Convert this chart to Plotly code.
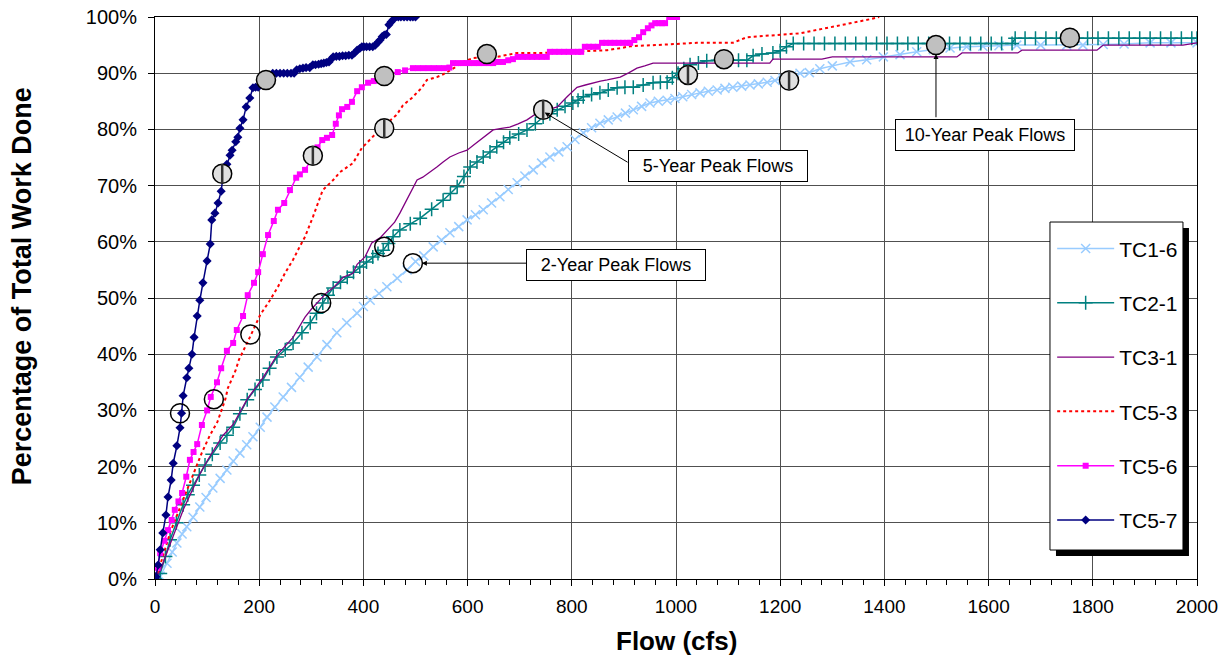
import plotly.graph_objects as go

# ---------------- data ----------------
tc16_x = [0, 10, 23, 33, 42, 52, 61, 73, 86, 98, 111, 125, 138, 150, 163, 176, 188, 202, 215, 230,
          246, 262, 278, 294, 311, 330, 349, 368, 388, 400, 413, 430, 445, 465, 484, 500, 516, 534, 550, 566,
          583, 599, 615, 630, 646, 662, 678, 695, 710, 726, 742, 758, 775, 791, 806, 822, 838, 854, 870, 887,
          903, 918, 934, 950, 966, 983, 998, 1013, 1030, 1046, 1062, 1079, 1094, 1109, 1126, 1142, 1158, 1175, 1190, 1205,
          1222, 1238, 1256, 1276, 1300, 1334, 1366, 1398, 1430, 1462, 1494, 1526, 1558, 1589, 1620, 1654, 1700, 1750, 1781, 1820,
          1860, 1910, 1950, 2000]
tc16_y = [0, 0.5, 2.8, 4.8, 6.4, 8.0, 9.3, 11.0, 12.8, 14.5, 16.2, 17.9, 19.4, 21.0, 22.4, 23.9, 25.3, 27.0, 28.8, 30.6,
          32.4, 34.1, 35.9, 37.7, 39.5, 41.7, 43.8, 45.6, 47.3, 48.5, 49.6, 50.8, 52.0, 53.5, 55.0, 56.5, 57.5, 59.1, 60.3, 61.6,
          62.7, 63.9, 64.8, 65.7, 66.9, 68.0, 69.3, 70.5, 71.7, 72.8, 74.0, 75.1, 76.0, 76.9, 78.2, 79.4, 80.3, 81.1, 81.7, 82.2,
          82.9, 83.5, 84.1, 84.7, 85.0, 85.2, 85.5, 85.8, 86.2, 86.5, 86.8, 87.0, 87.3, 87.5, 87.7, 87.9, 88.1, 88.4, 88.7, 89.1,
          89.6, 90.0, 90.1, 90.8, 91.3, 92.0, 92.4, 92.9, 93.3, 93.8, 94.2, 94.5, 94.7, 94.8, 94.9, 95.0, 95.0, 95.0, 95.0, 95.1,
          95.2, 95.4, 95.4, 95.4]

tc21_x = [0, 10, 20, 29, 41, 54, 63, 73, 85, 96, 110, 125, 138, 150, 163, 177, 192, 207, 220, 234,
          250, 265, 282, 298, 310, 322, 332, 342, 356, 369, 381, 393, 406, 418, 428, 438, 448, 457, 470, 490,
          509, 531, 553, 567, 580, 593, 605, 618, 630, 643, 656, 669, 681, 698, 714, 730, 745, 758, 772, 787,
          802, 812, 822, 838, 854, 870, 887, 902, 918, 937, 956, 970, 983, 993, 1004, 1015, 1027, 1043, 1059, 1080,
          1100, 1120, 1136, 1148, 1165, 1186, 1200, 1212, 1225, 1245, 1265, 1285, 1305, 1325, 1345, 1365, 1385, 1405, 1425, 1445,
          1465, 1485, 1505, 1525, 1545, 1565, 1585, 1605, 1625, 1645, 1651, 1670, 1690, 1710, 1730, 1750, 1770, 1790, 1810, 1830,
          1850, 1870, 1890, 1910, 1930, 1950, 1970, 1990, 2000]
tc21_y = [0, 1.0, 4.0, 7.0, 10.0, 13.2, 15.0, 16.7, 18.5, 20.3, 22.2, 24.2, 25.6, 27.0, 29.4, 31.9, 33.7, 35.4, 37.5, 39.5,
          40.8, 42.0, 43.8, 45.6, 47.3, 49.1, 50.5, 51.8, 52.8, 53.7, 54.6, 55.5, 56.4, 57.3, 57.9, 58.5, 59.7, 60.9, 62.1, 63.2,
          64.2, 65.8, 67.4, 68.6, 69.8, 71.6, 73.3, 74.2, 75.1, 76.0, 76.9, 77.7, 78.5, 79.2, 79.9, 81.0, 82.2, 82.8, 83.5, 84.1,
          84.7, 85.2, 85.8, 86.2, 86.5, 87.0, 87.4, 87.5, 87.5, 87.9, 88.3, 88.4, 88.4, 89.2, 90.0, 90.8, 91.5, 91.8, 92.2, 92.3,
          92.3, 92.3, 92.3, 93.1, 93.4, 93.6, 94.0, 94.7, 95.3, 95.3, 95.3, 95.3, 95.3, 95.3, 95.3, 95.3, 95.3, 95.3, 95.3, 95.3,
          95.3, 95.3, 95.3, 95.3, 95.3, 95.3, 95.3, 95.3, 95.3, 95.3, 96.2, 96.2, 96.2, 96.2, 96.2, 96.2, 96.2, 96.2, 96.2, 96.2,
          96.2, 96.2, 96.2, 96.2, 96.2, 96.2, 96.2, 96.2, 96.2]

tc31_x = [0, 10, 20, 30, 40, 55, 70, 85, 100, 115, 130, 150, 177, 207, 234, 265, 288, 300, 315, 330,
          342, 361, 380, 388, 403, 416, 432, 447, 460, 470, 483, 495, 503, 514, 530, 541, 553, 566, 583, 599,
          611, 624, 636, 649, 665, 681, 697, 714, 733, 752, 772, 791, 810, 826, 841, 855, 868, 880, 893, 910,
          925, 940, 956, 1180, 1186, 1280, 1300, 1539, 1549, 1656, 1664, 1808, 1820, 1973, 2000]
tc31_y = [0, 1.5, 4.0, 6.5, 9.0, 12.5, 15.5, 18.5, 21.0, 23.3, 25.5, 27.5, 32.0, 35.8, 39.8, 43.0, 46.6, 48.0, 49.5, 51.0,
          51.8, 53.7, 54.4, 56.0, 57.3, 59.8, 60.7, 62.1, 63.5, 65.1, 67.5, 69.8, 71.0, 71.5, 72.5, 73.3, 74.2, 75.1, 75.8, 76.3,
          77.2, 78.1, 79.0, 79.9, 80.2, 80.4, 81.0, 81.7, 82.9, 83.5, 84.0, 85.8, 87.5, 87.9, 88.3, 88.6, 88.8, 89.0, 89.3, 90.1,
          90.9, 91.3, 91.8, 91.8, 92.5, 92.5, 92.9, 92.9, 93.6, 93.6, 94.1, 94.1, 95.0, 95.0, 95.4]

tc53_x = [0, 10, 20, 30, 45, 60, 75, 90, 105, 120, 135, 140, 155, 161, 182, 202, 220, 236, 250, 265,
          277, 288, 303, 313, 322, 342, 355, 380, 397, 416, 436, 450, 464, 476, 493, 512, 522, 541, 553, 575,
          590, 611, 656, 695, 739, 800, 868, 896, 912, 960, 1040, 1109, 1136, 1238, 1290, 1330, 1372, 1390]
tc53_y = [0, 2.5, 5.5, 8.5, 12.0, 15.5, 19.0, 22.5, 25.5, 28.0, 32.0, 34.0, 37.2, 39.0, 43.0, 47.0, 49.5, 52.0, 54.5, 56.8,
          59.0, 60.9, 64.4, 67.0, 69.2, 71.0, 72.4, 74.0, 76.7, 78.5, 80.4, 81.5, 82.6, 84.3, 85.6, 87.4, 88.8, 89.3, 89.8, 91.0,
          92.0, 92.7, 92.9, 93.6, 93.6, 93.8, 94.1, 94.5, 94.8, 95.0, 95.4, 95.4, 96.4, 97.1, 98.0, 98.8, 99.6, 100.0]

tc56_x = [0, 5, 10, 18, 25, 32, 38, 45, 52, 60, 67, 74, 81, 90, 100, 107, 119, 127, 138, 150,
          157, 169, 178, 190, 198, 207, 217, 228, 236, 248, 259, 271, 278, 288, 303, 312, 321, 330, 340, 347,
          353, 359, 369, 378, 388, 397, 409, 420, 436, 451, 466, 480, 495, 505, 515, 525, 535, 545, 555, 565,
          572, 582, 592, 602, 612, 622, 632, 642, 649, 658, 668, 678, 687, 696, 706, 715, 724, 733, 742, 752,
          758, 767, 776, 785, 794, 803, 812, 818, 825, 833, 841, 850, 858, 866, 874, 882, 890, 898, 906, 912,
          920, 929, 937, 946, 953, 960, 967, 973, 979, 987, 995, 1002]
tc56_y = [0, 2.0, 4.6, 6.8, 8.7, 10.5, 12.3, 13.8, 15.3, 18.2, 21.2, 22.6, 24.0, 27.4, 30.0, 32.4, 35.0, 37.5, 40.6, 42.0,
          44.3, 46.8, 50.5, 52.7, 54.6, 57.8, 61.2, 63.7, 65.7, 66.9, 69.2, 71.4, 72.0, 72.8, 75.1, 76.8, 78.1, 78.5, 79.0, 81.0,
          82.5, 83.6, 84.0, 84.9, 86.8, 87.5, 88.3, 88.6, 89.1, 89.9, 90.2, 90.5, 90.9, 90.9, 90.9, 90.9, 90.9, 90.9, 90.9, 91.0,
          91.8, 91.8, 91.8, 91.8, 91.8, 91.8, 91.8, 91.8, 91.8, 92.0, 92.0, 92.3, 92.5, 92.9, 92.9, 92.9, 92.9, 92.9, 92.9, 92.9,
          93.8, 93.8, 93.8, 93.8, 93.8, 93.8, 93.8, 93.8, 94.7, 94.7, 94.7, 94.7, 95.4, 95.4, 95.4, 95.4, 95.4, 95.4, 95.4, 95.4,
          95.9, 96.4, 97.3, 98.0, 98.5, 98.9, 98.9, 98.9, 98.9, 100.0, 100.0, 100.0]

tc57_x = [0, 2, 6, 10, 15, 21, 25, 31, 35, 42, 48, 51, 54, 61, 65, 71, 75, 81, 86, 92,
          100, 106, 109, 115, 121, 127, 131, 138, 144, 148, 155, 159, 163, 169, 175, 182, 188, 193, 198, 205,
          211, 218, 226, 233, 240, 247, 254, 261, 267, 272, 278, 284, 290, 297, 303, 308, 314, 319, 324, 329,
          334, 338, 342, 348, 354, 360, 366, 372, 378, 383, 388, 393, 397, 401, 406, 412, 418, 423, 428, 432,
          436, 440, 444, 449, 453, 457, 462, 467, 472, 478, 484, 490, 495, 500]
tc57_y = [0, 0.4, 2.5, 5.2, 8.2, 11.4, 14.6, 17.6, 20.6, 23.7, 26.9, 29.5, 32.6, 35.8, 37.5, 40.0, 43.0, 46.8, 49.6, 52.7,
          56.6, 59.6, 63.9, 65.1, 66.9, 69.0, 72.0, 73.8, 75.4, 76.3, 77.8, 78.6, 80.2, 81.7, 84.0, 85.6, 87.4, 87.5, 87.5, 88.3,
          88.8, 89.4, 90.0, 90.0, 90.0, 90.0, 90.0, 90.0, 90.0, 90.6, 90.8, 90.9, 91.0, 91.0, 91.5, 91.5, 91.6, 91.7, 91.8, 91.9,
          92.0, 92.5, 92.9, 93.0, 93.0, 93.1, 93.1, 93.2, 93.2, 93.6, 94.1, 94.4, 94.7, 94.7, 94.7, 94.7, 94.7, 95.0, 95.5, 95.9,
          96.5, 96.8, 96.9, 98.6, 99.1, 99.5, 100.0, 100.0, 100.0, 100.0, 100.0, 100.0, 100.0, 100.0]

# peak-flow markers
p2_x = [48, 113, 183, 319, 440, 495]
p2_y = [29.5, 32.0, 43.5, 49.1, 59.1, 56.2]
p5_x = [129, 303, 440, 745, 1023, 1217]
p5_y = [72.1, 75.3, 80.2, 83.5, 89.7, 88.7]
p10_x = [213, 440, 637, 1092, 1499, 1756]
p10_y = [88.8, 89.5, 93.4, 92.5, 95.0, 96.3]

FONT = "Arial, 'Liberation Sans', sans-serif"

fig = go.Figure()

series = [
    ("TC1-6", tc16_x, tc16_y, dict(color="#99CCFF", width=1.5), dict(symbol="x-thin", size=9, line=dict(color="#99CCFF", width=1.5))),
    ("TC2-1", tc21_x, tc21_y, dict(color="#008080", width=1.5), dict(symbol="cross-thin", size=10, line=dict(color="#008080", width=1.5))),
    ("TC3-1", tc31_x, tc31_y, dict(color="#800080", width=1.3), None),
    ("TC5-3", tc53_x, tc53_y, dict(color="#FF0000", width=2, dash="dot"), None),
    ("TC5-6", tc56_x, tc56_y, dict(color="#FF00FF", width=1.5), dict(symbol="square", size=6, color="#FF00FF")),
    ("TC5-7", tc57_x, tc57_y, dict(color="#000080", width=1.5), dict(symbol="diamond", size=7, color="#000080")),
]
for i, (name, xs, ys, ln, mk) in enumerate(series):
    fig.add_trace(go.Scatter(
        x=xs, y=ys, name=name, legendgroup=f"g{i}",
        mode="lines+markers" if mk else "lines",
        line=ln, marker=mk if mk else None,
    ))

fig.add_trace(go.Scatter(x=p2_x, y=p2_y, mode="markers", showlegend=False, hoverinfo="skip",
                         marker=dict(symbol="circle", size=19, color="rgba(0,0,0,0)",
                                     line=dict(color="black", width=1.5))))
fig.add_trace(go.Scatter(x=p5_x, y=p5_y, mode="markers", showlegend=False, hoverinfo="skip",
                         marker=dict(symbol="circle", size=19, color="#e0e0e0",
                                     line=dict(color="black", width=1.5))))
fig.add_trace(go.Scatter(x=p5_x, y=p5_y, mode="markers", showlegend=False, hoverinfo="skip",
                         marker=dict(symbol="line-ns", size=14, line=dict(color="#333333", width=2.5))))
fig.add_trace(go.Scatter(x=p10_x, y=p10_y, mode="markers", showlegend=False, hoverinfo="skip",
                         marker=dict(symbol="circle", size=19, color="#c0c0c0",
                                     line=dict(color="black", width=1.5))))

# text boxes
boxes = [
    ("2-Year Peak Flows", 885, 55.9),
    ("5-Year Peak Flows", 1081, 73.5),
    ("10-Year Peak Flows", 1593, 79.0),
]
for t, bx, by in boxes:
    fig.add_annotation(x=bx, y=by, text=t, showarrow=False, xref="x", yref="y",
                       font=dict(family=FONT, size=18, color="black"),
                       bgcolor="white", bordercolor="black", borderwidth=1,
                       width=172, height=24, borderpad=3)

# arrows: (head x, head y, tail x, tail y, standoff)
arrows = [
    (495, 56.2, 716, 56.2, 9),
    (748, 83.0, 910, 74.0, 0),
    (1499, 95.0, 1499, 81.9, 9),
]
for hx, hy, tx, ty, so in arrows:
    fig.add_annotation(x=hx, y=hy, ax=tx, ay=ty, xref="x", yref="y", axref="x", ayref="y",
                       text="", showarrow=True, arrowhead=2, arrowsize=1, arrowwidth=1,
                       arrowcolor="black", standoff=so)

# axis titles
fig.add_annotation(x=0.5, y=-0.11, xref="paper", yref="paper", xanchor="center", yanchor="middle",
                   text="<b>Flow (cfs)</b>", showarrow=False, font=dict(family=FONT, size=26, color="black"))
fig.add_annotation(x=-0.1276, y=0.521, xref="paper", yref="paper", xanchor="center", yanchor="middle",
                   text="<b>Percentage of Total Work Done</b>", textangle=-90, showarrow=False,
                   font=dict(family=FONT, size=27, color="black"))

# legend frame and shadow (pixel sized, anchored at the legend's top-left corner)
LX, LY = 0.8589, 0.6352
fig.add_shape(type="rect", xref="paper", yref="paper", xsizemode="pixel", ysizemode="pixel",
              xanchor=LX, yanchor=LY, x0=6, x1=139, y0=-334, y1=-6,
              fillcolor="black", line=dict(width=0), layer="above")
fig.add_shape(type="rect", xref="paper", yref="paper", xsizemode="pixel", ysizemode="pixel",
              xanchor=LX, yanchor=LY, x0=0, x1=133, y0=-328, y1=0,
              fillcolor="white", line=dict(color="black", width=1), layer="above")

fig.update_layout(
    width=1225, height=658, autosize=False,
    margin=dict(l=155, r=28, t=17, b=79),
    paper_bgcolor="white", plot_bgcolor="white",
    font=dict(family=FONT, color="black"),
    showlegend=True,
    legend=dict(x=0.861, y=0.624, xanchor="left", yanchor="top",
                bgcolor="rgba(0,0,0,0)", borderwidth=0,
                font=dict(family=FONT, size=21, color="black"),
                traceorder="grouped", tracegroupgap=24, itemwidth=57),
    xaxis=dict(range=[0, 2000], dtick=200, tick0=0, automargin=False,
               showgrid=True, gridcolor="#505050", gridwidth=1,
               zeroline=False, showline=True, linecolor="black", linewidth=1, mirror=True,
               ticks="outside", ticklen=6, tickcolor="black", ticklabelstandoff=4,
               ticklabeloverflow="allow",
               minor=dict(dtick=40, ticks="outside", ticklen=5, tickcolor="black", showgrid=False),
               tickfont=dict(family=FONT, size=19)),
    yaxis=dict(range=[0, 100], dtick=10, tick0=0, ticksuffix="%", automargin=False,
               showgrid=True, gridcolor="#505050", gridwidth=1,
               zeroline=False, showline=True, linecolor="black", linewidth=1, mirror=True,
               ticks="outside", ticklen=6, tickcolor="black", ticklabelstandoff=7,
               ticklabeloverflow="allow",
               tickfont=dict(family=FONT, size=20)),
)

# remove the page's default body margin so the figure sits at the window's top-left corner
fig.write_html("out.html", config={"displayModeBar": False},
               post_script="document.body.style.margin='0';document.body.style.overflow='hidden';")
